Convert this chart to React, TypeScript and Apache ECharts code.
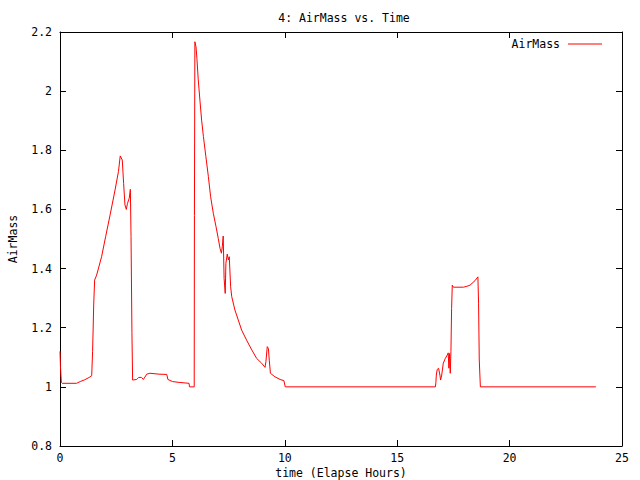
import React, { useEffect, useRef } from "react";
import * as echarts from "echarts";

const timeHours: number[] = [
  0, 0.02, 0.06, 0.1, 0.74, 0.9, 1.1, 1.3, 1.41, 1.45, 1.5, 1.54, 1.63, 1.85, 2.03, 2.22, 2.45, 2.6, 2.68, 2.77,
  2.83, 2.89, 2.95, 3.0, 3.08, 3.13, 3.16, 3.2, 3.23, 3.41, 3.5, 3.62, 3.71, 3.86, 4.0, 4.4, 4.75, 4.8, 5.0, 5.3,
  5.74, 5.76, 5.97, 5.98, 6.0, 6.05, 6.09, 6.15, 6.23, 6.3, 6.38, 6.49, 6.6, 6.7, 6.82, 6.94, 7.04, 7.12, 7.18,
  7.22, 7.26, 7.3, 7.35, 7.38, 7.44, 7.49, 7.53, 7.59, 7.64, 7.78, 7.93, 8.08, 8.3, 8.53, 8.75, 8.97, 9.12, 9.16,
  9.22, 9.27, 9.31, 9.36, 9.56, 9.79, 9.96, 10.02, 16.7, 16.72, 16.74, 16.78, 16.84, 16.9, 16.93, 16.98, 17.05,
  17.14, 17.23, 17.27, 17.3, 17.33, 17.36, 17.39, 17.42, 17.45, 17.5, 17.94, 18.1, 18.24, 18.46, 18.59, 18.62,
  18.65, 18.7, 23.84,
];

const airMass: number[] = [
  1.12, 1.07, 1.015, 1.012, 1.012, 1.018, 1.024, 1.032, 1.038, 1.12, 1.28, 1.361, 1.378, 1.44, 1.508, 1.578, 1.666,
  1.728, 1.781, 1.767, 1.688, 1.615, 1.6, 1.62, 1.638, 1.668, 1.508, 1.183, 1.023, 1.025, 1.032, 1.032, 1.025,
  1.043, 1.046, 1.043, 1.042, 1.025, 1.018, 1.015, 1.012, 1.0, 1.0, 1.58, 2.167, 2.15, 2.111, 2.038, 1.964, 1.902,
  1.846, 1.778, 1.711, 1.643, 1.587, 1.542, 1.502, 1.468, 1.452, 1.474, 1.51, 1.367, 1.316, 1.418, 1.449, 1.429,
  1.44, 1.339, 1.305, 1.26, 1.226, 1.192, 1.158, 1.125, 1.096, 1.08, 1.066, 1.085, 1.136, 1.13, 1.09, 1.046, 1.034,
  1.025, 1.021, 1.0, 1.0, 1.014, 1.04, 1.059, 1.063, 1.04, 1.023, 1.04, 1.08, 1.096, 1.108, 1.115, 1.063, 1.113,
  1.046, 1.119, 1.265, 1.344, 1.337, 1.337, 1.34, 1.344, 1.359, 1.372, 1.283, 1.091, 1.0, 1.0,
];

const xRange = { min: 0, max: 25, interval: 5 };
const yRange = { min: 0.8, max: 2.2, interval: 0.2 };

const FONT = "DejaVu Sans Mono";

export default function App() {
  const ref = useRef<HTMLDivElement>(null);
  useEffect(() => {
    if (!ref.current) return;
    const chart = echarts.init(ref.current, undefined, { renderer: "svg" });
    const axisLine = { show: true, onZero: false, lineStyle: { color: "#000", width: 1 } };
    const tick = { show: true, inside: true, length: 6, lineStyle: { color: "#000" } };
    const text = { color: "#000", fontFamily: FONT, fontSize: 11.5 };
    const fmtY = (v: number) => String(+v.toFixed(1));
    chart.setOption({
      animation: false,
      backgroundColor: "#fff",
      title: {
        text: "4: AirMass vs. Time",
        left: 339,
        textAlign: "center",
        top: 7,
        textStyle: { ...text, fontWeight: "normal" },
      },
      legend: {
        right: 33,
        top: 33,
        align: "right",
        itemWidth: 34,
        itemHeight: 14,
        textStyle: { ...text, padding: [0, 3, 0, 0] },
        data: [{ name: "AirMass", icon: "path://M0,0 L34,0 L34,1 L0,1 Z" }],
        itemStyle: { color: "#ff0000" },
      },
      grid: { left: 60, right: 18, top: 32, bottom: 34, containLabel: false, outerBoundsMode: "none" },
      xAxis: [
        {
          type: "value",
          ...xRange,
          position: "bottom",
          name: "time (Elapse Hours)",
          nameLocation: "middle",
          nameGap: 21,
          nameMoveOverlap: false,
          nameTextStyle: text,
          axisLine,
          axisTick: tick,
          axisLabel: { ...text, margin: 6 },
          splitLine: { show: false },
        },
        {
          type: "value",
          ...xRange,
          position: "top",
          axisLine,
          axisTick: tick,
          axisLabel: { show: false },
          splitLine: { show: false },
        },
      ],
      yAxis: [
        {
          type: "value",
          ...yRange,
          position: "left",
          name: "AirMass",
          nameLocation: "middle",
          nameRotate: 90,
          nameGap: 41,
          nameMoveOverlap: false,
          nameTextStyle: text,
          axisLine,
          axisTick: tick,
          axisLabel: { ...text, margin: 8, formatter: fmtY },
          splitLine: { show: false },
        },
        {
          type: "value",
          ...yRange,
          position: "right",
          axisLine,
          axisTick: tick,
          axisLabel: { show: false },
          splitLine: { show: false },
        },
      ],
      series: [
        {
          name: "AirMass",
          type: "line",
          xAxisIndex: 0,
          yAxisIndex: 0,
          symbol: "none",
          lineStyle: { color: "#ff0000", width: 1 },
          itemStyle: { color: "#ff0000" },
          data: timeHours.map((t, i) => [t, airMass[i]]),
        },
      ],
    });
    return () => chart.dispose();
  }, []);
  return <div ref={ref} style={{ position: "fixed", left: 0, top: 0, width: 640, height: 480 }} />;
}
